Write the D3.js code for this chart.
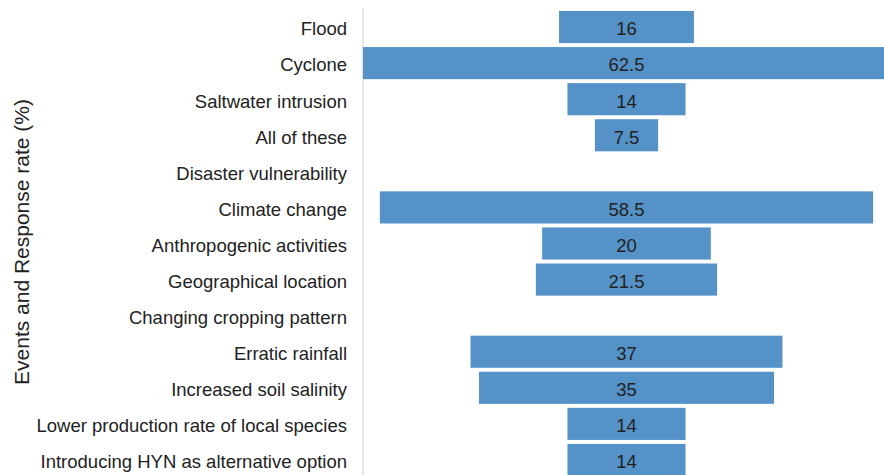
<!DOCTYPE html>
<html>
<head>
<meta charset="utf-8">
<script src="https://cdn.jsdelivr.net/npm/d3@7"></script>
<style>
  html, body { margin: 0; padding: 0; background: #fff; }
  svg { display: block; font-family: "Liberation Sans", Arial, Helvetica, sans-serif; }
</style>
</head>
<body>
<div id="chart"></div>
<script>
const categories = [
  'Flood',
  'Cyclone',
  'Saltwater intrusion',
  'All of these',
  'Disaster vulnerability',
  'Climate change',
  'Anthropogenic activities',
  'Geographical location',
  'Changing cropping pattern',
  'Erratic rainfall',
  'Increased soil salinity',
  'Lower production rate of local species',
  'Introducing HYN as alternative option'
];
const responseRate = [16, 62.5, 14, 7.5, 0, 58.5, 20, 21.5, 0, 37, 35, 14, 14];
const axisTitle = 'Events and Response rate (%)';

const width = 884;
const height = 475;
const barColor = '#5592c8';

const svg = d3.select('#chart')
  .append('svg')
  .attr('width', width)
  .attr('height', height);

// bars are centred, so the scale runs symmetric around zero
const maxVal = d3.max(responseRate);
const x = d3.scaleLinear()
  .domain([-maxVal / 2, maxVal / 2])
  .range([363, 890]);

const y = d3.scaleBand()
  .domain(categories)
  .range([9, 478])
  .paddingInner(0.11)
  .paddingOuter(0.055);

const rows = categories.map((c, i) => ({ name: c, value: responseRate[i] }));

// left axis line
svg.append('line')
  .attr('x1', x(-maxVal / 2))
  .attr('x2', x(-maxVal / 2))
  .attr('y1', 8)
  .attr('y2', height)
  .attr('stroke', '#dcdcdc')
  .attr('stroke-width', 1.5);

// bars
svg.selectAll('rect.bar')
  .data(rows.filter(d => d.value > 0))
  .join('rect')
  .attr('class', 'bar')
  .attr('x', d => x(-d.value / 2))
  .attr('width', d => x(d.value / 2) - x(-d.value / 2))
  .attr('y', d => y(d.name))
  .attr('height', y.bandwidth())
  .attr('fill', barColor);

// value labels
svg.selectAll('text.val')
  .data(rows.filter(d => d.value > 0))
  .join('text')
  .attr('class', 'val')
  .attr('x', x(0))
  .attr('y', d => y(d.name) + y.bandwidth() / 2)
  .attr('dy', '0.45em')
  .attr('text-anchor', 'middle')
  .attr('font-size', 18.5)
  .attr('fill', '#222')
  .text(d => d.value);

// category labels
svg.selectAll('text.cat')
  .data(rows)
  .join('text')
  .attr('class', 'cat')
  .attr('x', 347)
  .attr('y', d => y(d.name) + y.bandwidth() / 2)
  .attr('dy', '0.45em')
  .attr('text-anchor', 'end')
  .attr('font-size', 18.5)
  .attr('fill', '#222')
  .text(d => d.name);

// axis title
svg.append('text')
  .attr('transform', `translate(29, 242) rotate(-90)`)
  .attr('text-anchor', 'middle')
  .attr('font-size', 21)
  .attr('fill', '#222')
  .text(axisTitle);
</script>
</body>
</html>
